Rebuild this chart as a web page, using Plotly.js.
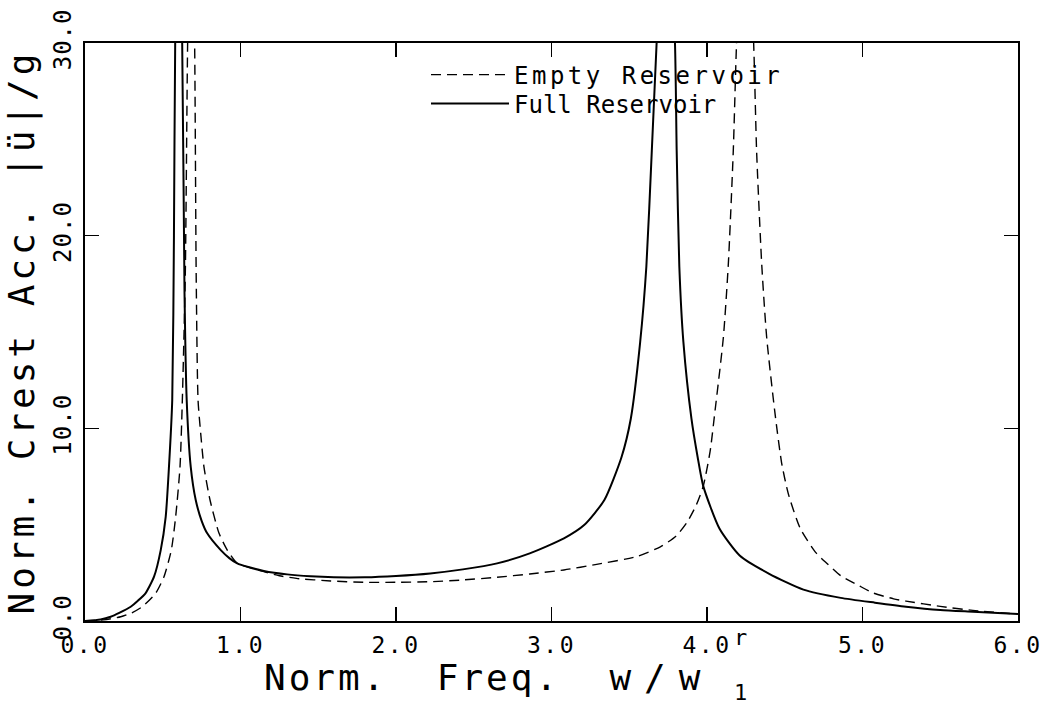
<!DOCTYPE html>
<html>
<head>
<meta charset="utf-8">
<script src="https://cdn.plot.ly/plotly-3.0.1.min.js"></script>
<style>
  html, body { margin: 0; padding: 0; background: #fff; }
  #chart { width: 1051px; height: 709px; }
  .xtick text { letter-spacing: 2.5px; }
  .ytick text { letter-spacing: 1px; }
  .legendtext { letter-spacing: 3.5px; }
  .ytitle { letter-spacing: 4px; }
  .annotation-text { letter-spacing: 3px; }
</style>
</head>
<body>
<div id="chart"></div>
<script>
// Normalized frequency (w / w1r) and normalized crest acceleration |ü|/g
const emptyFreq = [0, 0.12, 0.23, 0.30, 0.368, 0.455, 0.508, 0.555, 0.583, 0.611, 0.626, 0.645, 0.66, 0.683, 0.705, 0.715, 0.727, 0.744, 0.765, 0.804, 0.862, 0.915, 0.979, 1.05, 1.15, 1.25, 1.36, 1.58, 1.79, 2.0, 2.22, 2.43, 2.65, 2.86, 3.08, 3.29, 3.55, 3.70, 3.80, 3.87, 3.93, 3.976, 4.02, 4.05, 4.105, 4.137, 4.169, 4.19, 4.245, 4.30, 4.319, 4.352, 4.384, 4.437, 4.48, 4.523, 4.60, 4.70, 4.77, 4.86, 4.98, 5.07, 5.20, 5.28, 5.50, 5.71, 6.0];
const emptyAcc  = [0, 0.06, 0.22, 0.42, 0.74, 1.45, 2.30, 3.68, 5.41, 8.0, 11.47, 18, 30, 40, 30, 18, 11.47, 9.74, 8.0, 6.28, 4.55, 3.68, 2.99, 2.8, 2.56, 2.35, 2.21, 2.08, 2.01, 2.01, 2.04, 2.13, 2.27, 2.44, 2.65, 2.94, 3.35, 3.85, 4.4, 5.1, 6.0, 7.0, 8.8, 10.8, 14.7, 18.5, 24.4, 30, 40, 30, 24.4, 18.5, 14.7, 10.8, 8.2, 6.6, 4.8, 3.55, 3.0, 2.35, 1.82, 1.45, 1.15, 1.03, 0.76, 0.55, 0.36];

const fullFreq = [0, 0.10, 0.165, 0.22, 0.294, 0.34, 0.39, 0.444, 0.487, 0.519, 0.540, 0.561, 0.572, 0.58, 0.60, 0.625, 0.64, 0.654, 0.680, 0.712, 0.75, 0.786, 0.873, 0.93, 0.979, 1.05, 1.15, 1.30, 1.45, 1.60, 1.80, 2.00, 2.22, 2.43, 2.65, 2.86, 3.08, 3.21, 3.34, 3.45, 3.51, 3.57, 3.61, 3.645, 3.676, 3.735, 3.794, 3.805, 3.822, 3.848, 3.90, 3.94, 3.976, 4.08, 4.21, 4.40, 4.62, 4.86, 5.08, 5.28, 5.50, 5.71, 6.0];
const fullAcc  = [0, 0.08, 0.22, 0.42, 0.74, 1.05, 1.45, 2.30, 3.68, 5.41, 8.0, 11.47, 20, 30, 38, 30, 17, 11.47, 8.0, 6.28, 5.2, 4.55, 3.68, 3.25, 2.99, 2.8, 2.6, 2.42, 2.32, 2.27, 2.27, 2.34, 2.47, 2.68, 2.99, 3.51, 4.29, 4.98, 6.28, 8.5, 10.5, 14.46, 18.4, 24.4, 30, 40, 30, 24.4, 18.4, 14.5, 10.5, 8.5, 7.0, 4.8, 3.4, 2.45, 1.63, 1.2, 0.95, 0.74, 0.57, 0.48, 0.36];

const seriesNames = ['Empty Reservoir', 'Full Reservoir'];
const xTickVals = [0, 1, 2, 3, 4, 5, 6];
const xTickText = ['0.0', '1.0', '2.0', '3.0', '4.0', '5.0', '6.0'];
const yTickVals = [0, 10, 20, 30];
const yTickText = ['0.0', '10.0', '20.0', '30.0'];
const xTitle = 'Norm.\u00a0\u00a0Freq.\u00a0\u00a0<span style="letter-spacing:13px">w/w</span>';
const xTitleSup = 'r';
const xTitleSub = '1';
const yTitle = 'Norm.\u00a0Crest\u00a0Acc.\u00a0|ü|/g';

const FONT = '"DejaVu Sans Mono", "Liberation Mono", monospace';

const traces = [
  {
    x: emptyFreq, y: emptyAcc, name: seriesNames[0], legend: 'legend',
    type: 'scatter', mode: 'lines',
    line: { color: '#000', width: 1.4, dash: '10px,6px', shape: 'spline', smoothing: 0.6 }
  },
  {
    x: fullFreq, y: fullAcc, name: seriesNames[1], legend: 'legend2',
    type: 'scatter', mode: 'lines',
    line: { color: '#000', width: 2, shape: 'spline', smoothing: 0.6 }
  }
];

const axisCommon = {
  showgrid: false, zeroline: false,
  showline: true, linecolor: '#000', linewidth: 2,
  mirror: 'ticks', ticks: 'inside', ticklen: 14, tickwidth: 1.5, tickcolor: '#000'
};

const legendCommon = {
  xanchor: 'left', yanchor: 'middle',
  bgcolor: 'rgba(0,0,0,0)', borderwidth: 0,
  font: { family: FONT, size: 24, color: '#000' },
  itemwidth: 78
};

const layout = {
  width: 1051, height: 709,
  paper_bgcolor: '#fff', plot_bgcolor: '#fff',
  margin: { l: 85, r: 33, t: 43, b: 88 },
  font: { family: FONT, color: '#000' },
  showlegend: true,
  legend: Object.assign({}, legendCommon, { x: (426 - 85) / 933, y: (621 - 75) / 578 }),
  legend2: Object.assign({}, legendCommon, { x: (426 - 85) / 933, y: (621 - 104) / 578 }),
  xaxis: Object.assign({}, axisCommon, {
    range: [0, 6], tickvals: xTickVals, ticktext: xTickText,
    tickfont: { family: FONT, size: 23, color: '#000' },
    ticklabelstandoff: 2,
    title: { text: '' }
  }),
  yaxis: Object.assign({}, axisCommon, {
    range: [0, 30], tickvals: yTickVals, ticktext: yTickText,
    tickfont: { family: FONT, size: 24, color: '#000' },
    tickangle: -90, ticklabelstandoff: 2,
    title: { text: yTitle, font: { family: FONT, size: 36, color: '#000' }, standoff: 4 }
  }),
  annotations: [
    { xref: 'paper', yref: 'paper', x: (262 - 85) / 933, y: (621 - 677) / 578, xanchor: 'left', yanchor: 'middle',
      text: xTitle, showarrow: false,
      font: { family: FONT, size: 36, color: '#000' } },
    { xref: 'paper', yref: 'paper', x: (742 - 85) / 933, y: (621 - 638) / 578, xanchor: 'center', yanchor: 'middle',
      text: xTitleSup, showarrow: false, font: { family: FONT, size: 22, color: '#000' } },
    { xref: 'paper', yref: 'paper', x: (742 - 85) / 933, y: (621 - 692) / 578, xanchor: 'center', yanchor: 'middle',
      text: xTitleSub, showarrow: false, font: { family: FONT, size: 22, color: '#000' } }
  ]
};

Plotly.newPlot('chart', traces, layout, { staticPlot: true, displayModeBar: false });
</script>
</body>
</html>
